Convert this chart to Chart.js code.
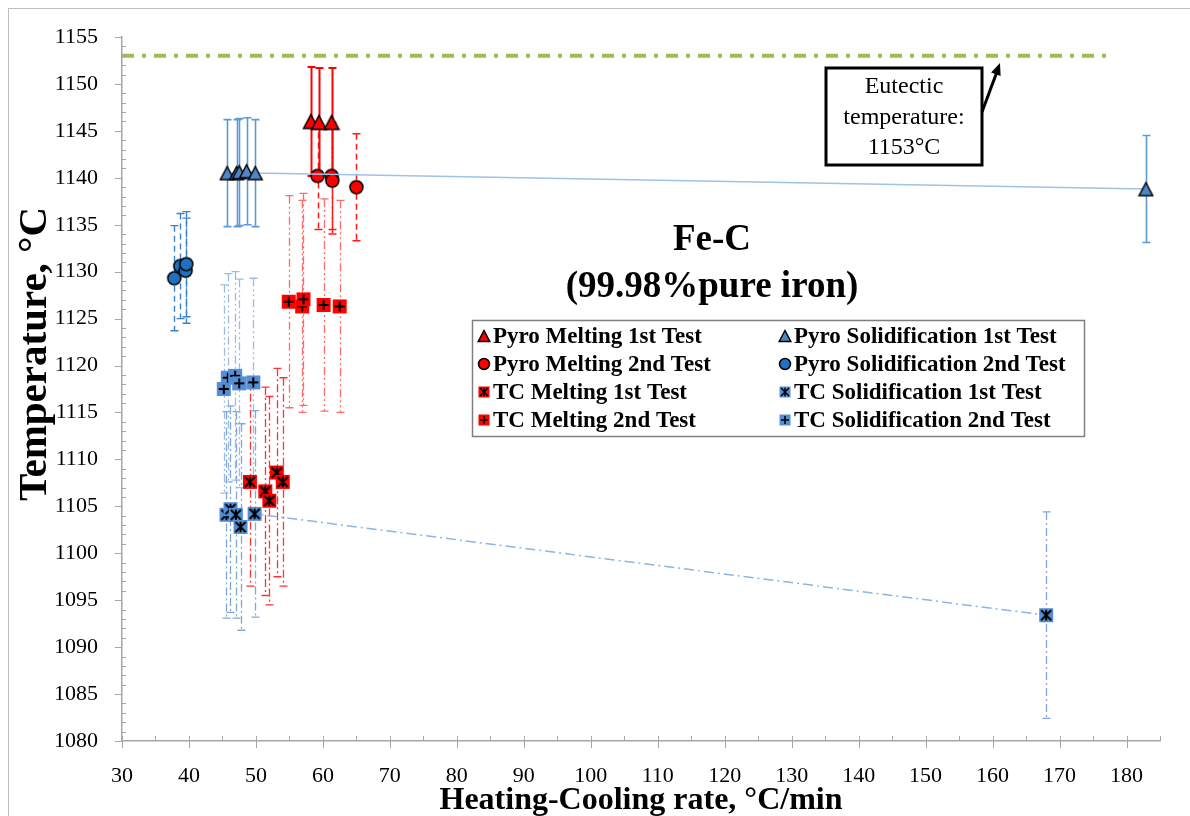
<!DOCTYPE html>
<html><head><meta charset="utf-8">
<script src="https://cdn.jsdelivr.net/npm/chart.js@4.4.1/dist/chart.umd.min.js"></script>
<style>html,body{margin:0;padding:0;background:#fff;}#wrap{position:relative;width:1190px;height:816px;}</style>
</head><body><div id="wrap"><canvas id="c"></canvas></div>
<script>
// ---------- data ----------
const seriesNames = ['Pyro Melting 1st Test','Pyro Melting 2nd Test','TC Melting 1st Test','TC Melting 2nd Test',
  'Pyro Solidification 1st Test','Pyro Solidification 2nd Test','TC Solidification 1st Test','TC Solidification 2nd Test'];
const pyroMelt1X = [58.2, 59.4, 61.3];
const pyroMelt1Y = [1146.0, 1145.9, 1145.9];
const pyroMelt1Err = 5.8;
const pyroMelt2X = [59.2, 61.3, 61.4, 65.0];
const pyroMelt2Y = [1140.2, 1140.2, 1139.7, 1139.0];
const pyroMelt2Err = 5.7;
const tcMelt1X = [49.1, 51.4, 52.0, 53.1, 54.0];
const tcMelt1Y = [1107.6, 1106.6, 1105.6, 1108.6, 1107.6];
const tcMelt1Err = 11.1;
const tcMelt2X = [54.9, 56.9, 57.1, 60.1, 62.5];
const tcMelt2Y = [1126.8, 1126.3, 1127.05, 1126.45, 1126.3];
const tcMelt2Err = 11.3;
const pyroSol1X = [45.7, 47.1, 47.5, 48.6, 49.9, 182.9];
const pyroSol1Y = [1140.5, 1140.5, 1140.6, 1140.7, 1140.5, 1138.8];
const pyroSol1Err = 5.7;
const pyroSol2X = [37.8, 38.7, 39.5, 39.6];
const pyroSol2Y = [1129.3, 1130.6, 1130.1, 1130.8];
const pyroSol2Err = 5.6;
const tcSol1X = [45.6, 46.2, 47.0, 47.7, 49.8, 168.0];
const tcSol1Y = [1104.1, 1104.7, 1104.1, 1102.8, 1104.2, 1093.4];
const tcSol1Err = 11.0;
const tcSol2X = [45.2, 45.8, 46.9, 47.5, 49.6];
const tcSol2Y = [1117.5, 1118.7, 1118.9, 1118.1, 1118.2];
const tcSol2Err = 11.1;
const eutecticX = [30, 177];
const eutecticY = [1153, 1153];
const xTicks = [30,40,50,60,70,80,90,100,110,120,130,140,150,160,170,180];
const yTicks = [1080,1085,1090,1095,1100,1105,1110,1115,1120,1125,1130,1135,1140,1145,1150,1155];
const titleLines = ['Fe-C', '(99.98%pure iron)'];
const noteLines = ['Eutectic', 'temperature:', '1153°C'];
const xTitle = 'Heating-Cooling rate, °C/min';
const yTitle = 'Temperature, °C';

// ---------- markers ----------
const RED = '#FF0000', BLUE_T = '#4F86C6', BLUE_C = '#1F72C2', BLUE_S = '#558ED5';
function drawMarker(g, kind, fill, sz){
  g.save();
  if (kind === 'tri'){
    const h = sz/2;
    g.beginPath(); g.moveTo(0,-h); g.lineTo(h*1.05,h); g.lineTo(-h*1.05,h); g.closePath();
    g.fillStyle = fill; g.fill(); g.lineWidth = 1.5; g.strokeStyle = '#000'; g.stroke();
  } else if (kind === 'circ'){
    g.beginPath(); g.arc(0,0,sz/2,0,Math.PI*2);
    g.fillStyle = fill; g.fill(); g.lineWidth = 1.5; g.strokeStyle = '#000'; g.stroke();
  } else {
    const h = sz/2;
    g.fillStyle = fill; g.fillRect(-h,-h,sz,sz);
    g.strokeStyle = '#000'; g.lineWidth = sz > 11 ? 2 : 1.5;
    const a = h*0.72;
    g.beginPath();
    if (kind === 'star'){
      g.moveTo(-a,-a); g.lineTo(a,a); g.moveTo(-a,a); g.lineTo(a,-a);
      g.moveTo(0,-a*1.05); g.lineTo(0,a*1.05);
    } else {
      g.moveTo(-a,0); g.lineTo(a,0); g.moveTo(0,-a); g.lineTo(0,a);
    }
    g.stroke();
  }
  g.restore();
}
function mk(kind, fill, sz){
  const s = sz + 4; const c = document.createElement('canvas'); c.width = s; c.height = s;
  const g = c.getContext('2d'); g.translate(s/2, s/2); drawMarker(g, kind, fill, sz); return c;
}
const markerDefs = [
  ['tri', RED], ['circ', RED], ['star', RED], ['plus', RED],
  ['tri', BLUE_T], ['circ', BLUE_C], ['star', BLUE_S], ['plus', BLUE_S]
];
function pts(xs, ys){ return xs.map((x,i)=>({x:x, y:ys[i]})); }

const errStyles = {
  pm1: {color:'#FF0000', width:2, dash:[]},
  pm2: {color:'#FF1A1A', width:1.5, dash:[6,4]},
  tm1: {color:'#FF3333', width:1.3, dash:[8,3,2,3]},
  tm2: {color:'#FF6B6B', width:1.3, dash:[8,3,2,3,2,3]},
  ps1: {color:'#5B9BD5', width:1.6, dash:[]},
  ps2: {color:'#3B82CC', width:1.4, dash:[6,4]},
  ts1: {color:'#7FA7DE', width:1.3, dash:[8,3,2,3]},
  ts2: {color:'#9BBBE6', width:1.3, dash:[8,3,2,3,2,3]}
};
function ds(label, xs, ys, err, key, mIdx, sz, extra){
  return Object.assign({
    label: label, data: pts(xs, ys), errVal: err, errStyle: errStyles[key],
    pointStyle: mk(markerDefs[mIdx][0], markerDefs[mIdx][1], sz),
    pointRadius: sz/2, pointHoverRadius: sz/2, showLine: false,
    borderColor: 'rgba(0,0,0,0)', backgroundColor: markerDefs[mIdx][1]
  }, extra || {});
}
const datasets = [
  ds(seriesNames[4], pyroSol1X, pyroSol1Y, pyroSol1Err, 'ps1', 4, 13, {showLine:true, borderColor:'#9DC3E6', borderWidth:1.5}),
  ds(seriesNames[6], tcSol1X, tcSol1Y, tcSol1Err, 'ts1', 6, 14, {showLine:true, borderColor:'#8DB4E2', borderWidth:1.5, borderDash:[10,4,2,4]}),
  ds(seriesNames[7], tcSol2X, tcSol2Y, tcSol2Err, 'ts2', 7, 14),
  ds(seriesNames[5], pyroSol2X, pyroSol2Y, pyroSol2Err, 'ps2', 5, 13),
  ds(seriesNames[1], pyroMelt2X, pyroMelt2Y, pyroMelt2Err, 'pm2', 1, 13),
  ds(seriesNames[0], pyroMelt1X, pyroMelt1Y, pyroMelt1Err, 'pm1', 0, 14),
  ds(seriesNames[2], tcMelt1X, tcMelt1Y, tcMelt1Err, 'tm1', 2, 14),
  ds(seriesNames[3], tcMelt2X, tcMelt2Y, tcMelt2Err, 'tm2', 3, 14),
  {label:'Eutectic', data: pts(eutecticX, eutecticY), showLine:true, pointRadius:0, borderColor:'#9BBB59',
   borderWidth:4, borderDash:[12,8,4,8], fill:false}
];

const SERIF = '"Liberation Serif","Times New Roman",serif';
const custom = {
  id: 'custom',
  beforeDraw(chart){
    const g = chart.ctx; g.save(); g.strokeStyle = '#BFBFBF'; g.lineWidth = 1;
    g.strokeRect(8.5, 8.5, 1190, 830); g.restore();
  },
  beforeDatasetsDraw(chart){
    const g = chart.ctx, xs = chart.scales.x, ys = chart.scales.y;
    g.save();
    chart.data.datasets.forEach((d) => {
      if (!d.errVal) return;
      const st = d.errStyle;
      g.strokeStyle = st.color; g.lineWidth = st.width;
      d.data.forEach(p => {
        const px = Math.round(xs.getPixelForValue(p.x)) + 0.5;
        const y1 = ys.getPixelForValue(p.y + d.errVal), y2 = ys.getPixelForValue(p.y - d.errVal);
        g.setLineDash(st.dash); g.beginPath(); g.moveTo(px, y1); g.lineTo(px, y2); g.stroke();
        g.setLineDash([]); g.beginPath(); g.moveTo(px-4, y1); g.lineTo(px+4, y1); g.moveTo(px-4, y2); g.lineTo(px+4, y2); g.stroke();
      });
    });
    g.restore();
  },
  afterDraw(chart){
    const g = chart.ctx, xs = chart.scales.x, ys = chart.scales.y, ca = chart.chartArea;
    g.save();
    // minor / major ticks
    g.strokeStyle = '#A6A6A6'; g.lineWidth = 1;
    g.beginPath();
    for (let v = 1080; v <= 1155; v++){
      const py = Math.round(ys.getPixelForValue(v)) + 0.5;
      if (v % 5 === 0){ g.moveTo(ca.left-7, py); g.lineTo(ca.left, py); }
      else { g.moveTo(ca.left, py); g.lineTo(ca.left+4, py); }
    }
    for (let v = 30; v <= 185; v += 5){
      const px = Math.round(xs.getPixelForValue(v)) + 0.5;
      if (v % 10 === 0){ g.moveTo(px, ca.bottom-5); g.lineTo(px, ca.bottom+7); }
      else { g.moveTo(px, ca.bottom-5); g.lineTo(px, ca.bottom); }
    }
    g.stroke();
    // axis titles
    g.fillStyle = '#000'; g.textAlign = 'center'; g.textBaseline = 'middle';
    g.font = 'bold 32px ' + SERIF;
    g.fillText(xTitle, 641, 801);
    g.save(); g.translate(35, 354); g.rotate(-Math.PI/2);
    g.font = 'bold 41px ' + SERIF; g.fillText(yTitle, 0, 0); g.restore();
    // chart title
    g.font = 'bold 37px ' + SERIF;
    g.fillText(titleLines[0], 712, 240);
    g.fillText(titleLines[1], 712, 287);
    // annotation box
    g.lineWidth = 3; g.strokeStyle = '#000';
    g.strokeRect(826, 68, 156, 97);
    g.font = '24px ' + SERIF;
    g.fillText(noteLines[0], 904, 87);
    g.fillText(noteLines[1], 904, 118);
    g.fillText(noteLines[2], 904, 148);
    // arrow
    const ax0 = 982, ay0 = 112, ax1 = 1000, ay1 = 63;
    g.beginPath(); g.moveTo(ax0, ay0); g.lineTo(ax1 - 2, ay1 + 6); g.stroke();
    const ang = Math.atan2(ay1-ay0, ax1-ax0);
    g.beginPath(); g.moveTo(ax1, ay1);
    g.lineTo(ax1 - 13*Math.cos(ang-0.4), ay1 - 13*Math.sin(ang-0.4));
    g.lineTo(ax1 - 13*Math.cos(ang+0.4), ay1 - 13*Math.sin(ang+0.4));
    g.closePath(); g.fillStyle = '#000'; g.fill();
    // legend
    g.fillStyle = '#fff'; g.fillRect(472, 320, 612, 116);
    g.lineWidth = 1.5; g.strokeStyle = '#808080'; g.strokeRect(472.5, 320.5, 612, 116);
    const rowsY = [336, 364, 392, 420];
    const colX = [484, 785];
    g.font = 'bold 23px ' + SERIF; g.textAlign = 'left'; g.fillStyle = '#000';
    for (let i = 0; i < 8; i++){
      const col = i < 4 ? 0 : 1, row = i % 4;
      g.save(); g.translate(colX[col], rowsY[row]);
      drawMarker(g, markerDefs[i][0], markerDefs[i][1], 11);
      g.restore();
      g.fillStyle = '#000';
      g.fillText(seriesNames[i], colX[col] + 9, rowsY[row] + 1);
    }
    g.restore();
  }
};

const tickFont = {family: 'Liberation Serif', size: 22};
new Chart(document.getElementById('c'), {
  type: 'scatter',
  data: {datasets: datasets},
  options: {
    responsive: true, maintainAspectRatio: false, animation: false,
    layout: {padding: {top: 37, right: 30, left: 0, bottom: 0}},
    plugins: {legend: {display: false}, tooltip: {enabled: false}},
    scales: {
      x: {type: 'linear', min: 30, max: 185,
        grid: {display: false}, border: {display: true, color: '#A6A6A6', width: 1.5},
        ticks: {font: tickFont, color: '#000', padding: 14, maxRotation: 0, autoSkip: false,
          callback: v => String(v)},
        afterBuildTicks: s => { s.ticks = xTicks.map(v => ({value: v})); },
        afterFit: s => { s.height = 75; }},
      y: {type: 'linear', min: 1080, max: 1155,
        grid: {display: false}, border: {display: true, color: '#A6A6A6', width: 1.5},
        ticks: {font: tickFont, color: '#000', padding: 16, autoSkip: false,
          callback: v => String(v)},
        afterBuildTicks: s => { s.ticks = yTicks.map(v => ({value: v})); },
        afterFit: s => { s.width = 122; }}
    }
  },
  plugins: [custom]
});
</script></body></html>
